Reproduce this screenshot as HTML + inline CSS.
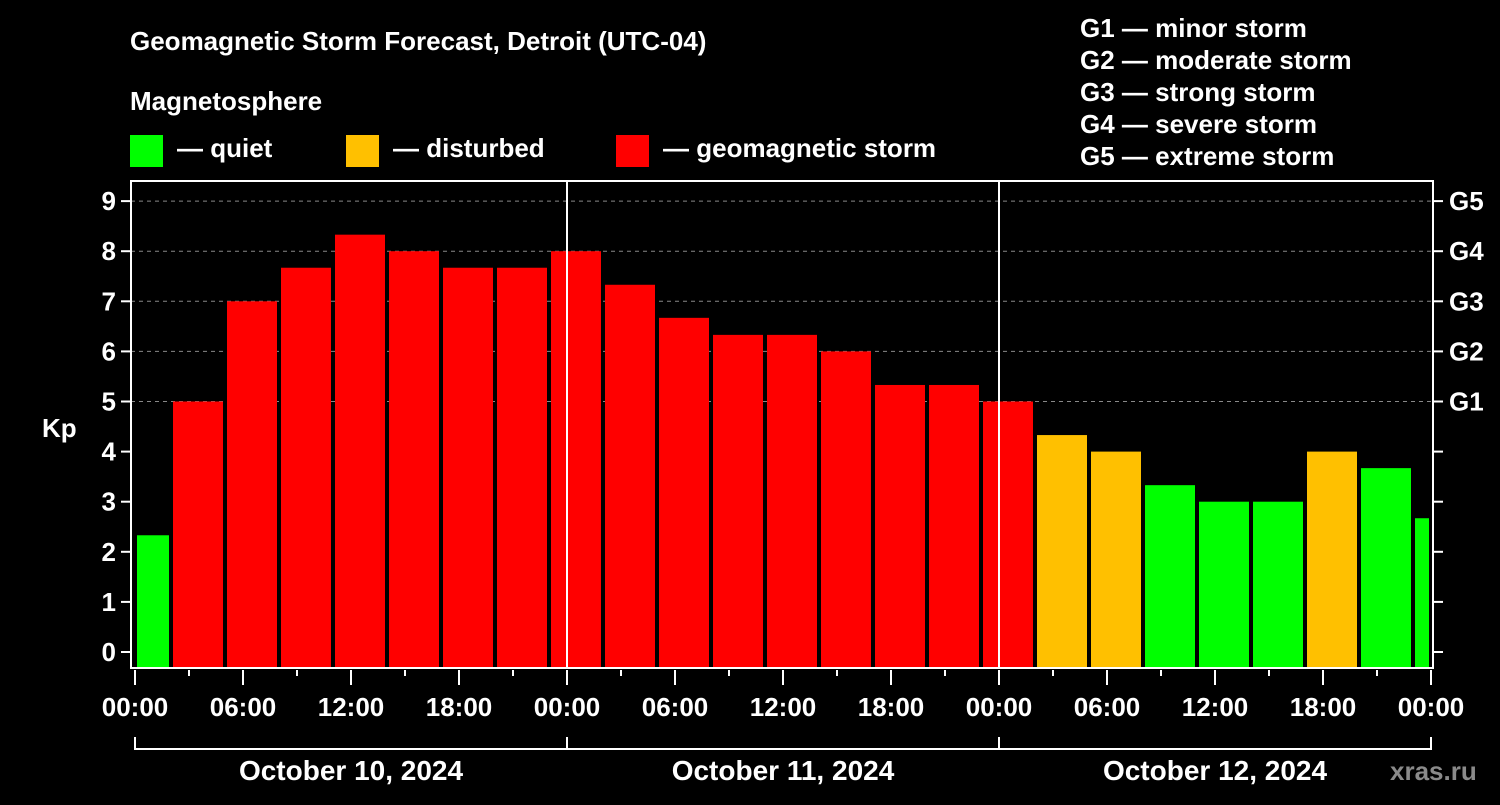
<!DOCTYPE html>
<html><head><meta charset="utf-8"><style>
body{margin:0;background:#000;width:1500px;height:800px;overflow:hidden}
svg text{font-family:"Liberation Sans",sans-serif;font-weight:bold;fill:#fff}
</style></head><body>
<svg id="c" width="1500" height="800">
<text x="130" y="50" font-size="26">Geomagnetic Storm Forecast, Detroit (UTC-04)</text>
<text x="130" y="110" font-size="26">Magnetosphere</text>
<g><rect x="130" y="135" width="33" height="32" fill="#00ff00"/><text x="177" y="157" font-size="26">— quiet</text></g>
<g><rect x="346" y="135" width="33" height="32" fill="#ffc000"/><text x="393" y="157" font-size="26">— disturbed</text></g>
<g><rect x="616" y="135" width="33" height="32" fill="#ff0000"/><text x="663" y="157" font-size="26">— geomagnetic storm</text></g>
<g font-size="26">
<text x="1080" y="37">G1 — minor storm</text><text x="1080" y="69">G2 — moderate storm</text><text x="1080" y="101">G3 — strong storm</text><text x="1080" y="133">G4 — severe storm</text><text x="1080" y="165">G5 — extreme storm</text></g>
<text x="42" y="437" font-size="26">Kp</text>
<text x="1390" y="780" font-size="26" fill="#888" style="fill:#8a8a8a">xras.ru</text>
<g id="g"></g>
</svg>
<script>
const kpValues=[2.33,5,7,7.67,8.33,8,7.67,7.67,8,7.33,6.67,6.33,6.33,6,5.33,5.33,5,4.33,4,3.33,3,3,4,3.67,2.67];
const yTicks=[0,1,2,3,4,5,6,7,8,9];
const gLabels=["G1","G2","G3","G4","G5"];
const xLabels=["00:00","06:00","12:00","18:00","00:00","06:00","12:00","18:00","00:00","06:00","12:00","18:00","00:00"];
const dayLabels=["October 10, 2024","October 11, 2024","October 12, 2024"];
const X0=135,PXH=18,L=131,R=1433,T=181,B=668;
const x=h=>X0+h*PXH, y=v=>652-v*50.1;
const NS="http://www.w3.org/2000/svg",g=document.getElementById('g');
function el(t,a){const e=document.createElementNS(NS,t);for(const k in a)e.setAttribute(k,a[k]);g.appendChild(e);return e;}
// gridlines
yTicks.forEach(v=>{if(v>=5){const l=el('line',{x1:L,x2:R,y1:y(v),y2:y(v),stroke:'#888','stroke-dasharray':'4,4','stroke-width':1});

}});
// bars
kpValues.forEach((v,i)=>{let h0=-1+3*i,h1=h0+3;h0=Math.max(0,h0);h1=Math.min(72,h1);
const x0=x(h0)+2,x1=x(h1)-2;const col=v>=5?'#ff0000':v>=4?'#ffc000':'#00ff00';
const r=el('rect',{x:x0,y:y(v),width:x1-x0,height:B-y(v),fill:col});

});
// day dividers
[24,48].forEach(h=>{const l=el('line',{x1:x(h),x2:x(h),y1:T,y2:B,stroke:'#fff','stroke-width':2});

});
const f=el('rect',{x:L,y:T,width:R-L,height:B-T,fill:'none',stroke:'#fff','stroke-width':2});


yTicks.forEach(v=>{el('line',{x1:L-10,x2:L,y1:y(v),y2:y(v),stroke:'#fff','stroke-width':2});
el('line',{x1:R,x2:R+10,y1:y(v),y2:y(v),stroke:'#fff','stroke-width':2});
const t=el('text',{x:L-15,y:y(v)+9,'font-size':26,'text-anchor':'end'});t.textContent=v;

});
gLabels.forEach((s,i)=>{const t=el('text',{x:1449,y:y(5+i)+9,'font-size':26});t.textContent=s;

});
for(let h=0;h<=72;h+=3){const big=h%6==0;el('line',{x1:x(h),x2:x(h),y1:B+2,y2:B+(big?17:8),stroke:'#fff','stroke-width':2});}
xLabels.forEach((s,i)=>{const t=el('text',{x:x(i*6),y:716,'font-size':26,'text-anchor':'middle'});t.textContent=s;

});
el('line',{x1:x(0),x2:x(72),y1:749,y2:749,stroke:'#fff','stroke-width':2});
[0,24,48,72].forEach(h=>el('line',{x1:x(h),x2:x(h),y1:737,y2:750,stroke:'#fff','stroke-width':2}));
dayLabels.forEach((s,i)=>{const t=el('text',{x:x(12+24*i),y:780,'font-size':28,'text-anchor':'middle'});t.textContent=s;

});
</script>
</body></html>
